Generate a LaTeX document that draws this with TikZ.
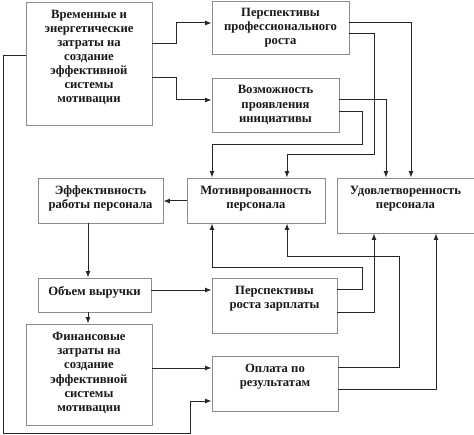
\documentclass[tikz,border=0pt]{standalone}
\usepackage{fontspec}
\setmainfont{Liberation Serif}
\usetikzlibrary{arrows.meta}
\begin{document}
\begin{tikzpicture}[x=1bp,y=-1bp,
  box/.style={draw=black!45, line width=0.9bp, inner sep=0pt, fill=white},
  txt/.style={font=\bfseries\fontsize{12.7}{14.2}\selectfont, align=center, inner sep=0pt, text=black!90},
  conn/.style={draw=black!85, line width=1bp, -{Latex[length=6.5bp,width=5bp]}},
  plain/.style={draw=black!85, line width=1bp}]
\useasboundingbox (0,0) rectangle (474,435);
% boxes
\node[box, minimum width=126bp, minimum height=123bp] (A) at (89,63.5) {};
\node[txt] (At) at (89,57.5) {Временные и\\энергетические\\затраты на\\создание\\эффективной\\системы\\мотивации};
\node[box, minimum width=137bp, minimum height=53bp] (B) at (280.5,27.5) {};
\node[txt] (Bt) at (280.5,27.5) {Перспективы\\профессионального\\роста};
\node[box, minimum width=127bp, minimum height=54bp] (C) at (275.5,105) {};
\node[txt] (Ct) at (275.5,105) {Возможность\\проявления\\инициативы};
\node[box, minimum width=138bp, minimum height=45bp] (M) at (256,200.5) {};
\node[txt] (Mt) at (256,198.5) {Мотивированность\\персонала};
\node[box, minimum width=125bp, minimum height=45bp] (E) at (100.5,200.5) {};
\node[txt] (Et) at (100.5,198.5) {Эффективность\\работы персонала};
\node[box, minimum width=138bp, minimum height=55bp] (U) at (406,205.5) {};
\node[txt] (Ut) at (405.5,199) {Удовлетворенность\\персонала};
\node[box, minimum width=113bp, minimum height=34bp] (V) at (94.5,295) {};
\node[txt] (Vt) at (94.5,292.5) {Объем выручки};
\node[box, minimum width=125bp, minimum height=55bp] (Z) at (274.5,305.5) {};
\node[txt] (Zt) at (274.5,298.5) {Перспективы\\роста зарплаты};
\node[box, minimum width=126bp, minimum height=55bp] (O) at (275,383.5) {};
\node[txt] (Ot) at (275,376.5) {Оплата по\\результатам};
\node[box, minimum width=126bp, minimum height=101bp] (F) at (89,374.5) {};
\node[txt] (Ft) at (89,373) {Финансовые\\затраты на\\создание\\эффективной\\системы\\мотивации};
% connectors
\draw[conn] (A.east |- 0,44) -- (176,44) -- (176,23) -- (B.west |- 0,23);
\draw[conn] (A.east |- 0,78) -- (176,78) -- (176,100) -- (C.west |- 0,100);
\draw[conn] (B.east |- 0,23) -- (411,23) -- (U.north -| 411,0);
\draw[conn] (B.east |- 0,34) -- (374,34) -- (374,155) -- (287,155) -- (M.north -| 287,0);
\draw[conn] (C.east |- 0,100) -- (386,100) -- (U.north -| 386,0);
\draw[conn] (C.east |- 0,112) -- (362,112) -- (362,145) -- (212,145) -- (M.north -| 212,0);
\draw[conn] (M.west |- 0,201) -- (E.east |- 0,201);
\draw[conn] (E.south -| 88,0) -- (V.north -| 88,0);
\draw[conn] (V.east |- 0,290) -- (Z.west |- 0,290);
\draw[conn] (V.south -| 88,0) -- (F.north -| 88,0);
\draw[conn] (Z.east |- 0,289) -- (362,289) -- (362,267) -- (212,267) -- (M.south -| 212,0);
\draw[conn] (Z.east |- 0,312) -- (374,312) -- (U.south -| 374,0);
\draw[conn] (O.east |- 0,367) -- (399,367) -- (399,256) -- (287,256) -- (M.south -| 287,0);
\draw[conn] (O.east |- 0,389) -- (436,389) -- (U.south -| 436,0);
\draw[conn] (F.east |- 0,368) -- (O.west |- 0,368);
\draw[conn] (A.west |- 0,56) -- (3,56) -- (3,433) -- (190,433) -- (190,401) -- (O.west |- 0,401);
\end{tikzpicture}
\end{document}
